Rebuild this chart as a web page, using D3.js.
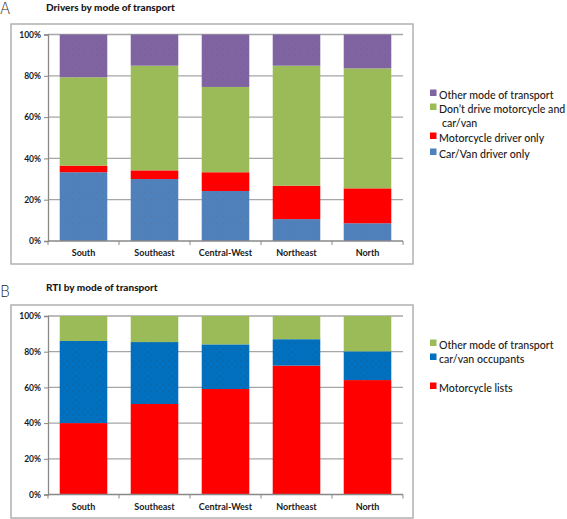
<!DOCTYPE html>
<html>
<head>
<meta charset="utf-8">
<script src="https://cdn.jsdelivr.net/npm/d3@7/dist/d3.min.js"></script>
<style>
  body { margin: 0; background: #fff; }
  svg { display: block; }
  text { font-family: Lato, "Open Sans", sans-serif; fill: #1a1a1a; }
</style>
</head>
<body>
<svg id="chart" width="567" height="519"></svg>
<script>
// ---------- DATA ----------
const regions = ["South", "Southeast", "Central-West", "Northeast", "North"];
const yTicks = [0, 0.2, 0.4, 0.6, 0.8, 1.0];

// Panel A: Drivers by mode of transport (shares, stacked bottom→top)
const carVanDriverOnly      = [0.333, 0.300, 0.242, 0.106, 0.086];
const motorcycleDriverOnly  = [0.032, 0.042, 0.091, 0.162, 0.169];
const dontDrive             = [0.428, 0.507, 0.413, 0.581, 0.581];
const otherModeA            = [0.207, 0.151, 0.254, 0.151, 0.164];
const seriesA = ["Car/Van driver only", "Motorcycle driver only", "Don\u2019t drive motorcycle and car/van", "Other mode of transport"];

// Panel B: RTI by mode of transport
const motorcyclists         = [0.400, 0.507, 0.591, 0.722, 0.641];
const carVanOccupants       = [0.460, 0.347, 0.250, 0.148, 0.161];
const otherModeB            = [0.140, 0.146, 0.159, 0.130, 0.198];
const seriesB = ["Motorcycle lists", "car/van occupants", "Other mode of transport"];

// ---------- DRAW ----------
const svg = d3.select("#chart");
const defs = svg.append("defs");

function dotPattern(id, bg, dot, step, r) {
  const p = defs.append("pattern").attr("id", id).attr("patternUnits", "userSpaceOnUse")
    .attr("width", step).attr("height", step);
  p.append("rect").attr("width", step).attr("height", step).attr("fill", bg);
  p.append("circle").attr("cx", 1).attr("cy", 1).attr("r", r).attr("fill", dot).attr("opacity", 0.55);
  p.append("circle").attr("cx", step / 2 + 1).attr("cy", step / 2 + 1).attr("r", r).attr("fill", dot).attr("opacity", 0.35);
}
dotPattern("pPurple", "#8064a2", "#5a4a7a", 6, 0.5);
dotPattern("pBlueA", "#4f81bd", "#8a5a3a", 6, 0.5);
dotPattern("pBlueB", "#0070c0", "#5a2a10", 6, 0.55);

function panel(cfg) {
  const g = svg.append("g");
  // letter + title
  g.append("text").attr("x", cfg.letterX).attr("y", cfg.letterY)
    .style("font-family", "'DejaVu Sans', sans-serif").style("font-size", "15px").style("font-weight", 300)
    .text(cfg.letter);
  g.append("text").attr("x", 46).attr("y", cfg.titleY)
    .style("font-size", "10px").style("font-weight", 900).text(cfg.title);
  // frame
  g.append("rect").attr("x", 11).attr("y", cfg.frameTop).attr("width", 402).attr("height", cfg.frameBottom - cfg.frameTop)
    .attr("fill", "none").attr("stroke", "#b0b0b0").attr("stroke-width", 1.5);

  const x = d3.scaleBand().domain(regions).range([48, 403]).paddingInner(0.33).paddingOuter(0.165);
  const y = d3.scaleLinear().domain([0, 1]).range([cfg.y0, cfg.y100]);

  // gridlines
  g.append("g").selectAll("line").data(yTicks.filter(d => d > 0)).join("line")
    .attr("x1", 48).attr("x2", 403).attr("y1", d => y(d)).attr("y2", d => y(d))
    .attr("stroke", "#a6a6a6").attr("stroke-width", 1.3);

  // stacks
  const keys = cfg.series.map(s => s.key);
  const rows = regions.map((r, i) => {
    const o = { region: r };
    cfg.series.forEach(s => o[s.key] = s.values[i]);
    return o;
  });
  const stacked = d3.stack().keys(keys)(rows);
  g.append("g").selectAll("g").data(stacked).join("g")
    .attr("fill", (d, i) => cfg.series[i].fill)
    .selectAll("rect").data(d => d).join("rect")
    .attr("x", d => x(d.data.region)).attr("width", x.bandwidth())
    .attr("y", d => y(d[1])).attr("height", d => y(d[0]) - y(d[1]));

  // y axis
  const yAxis = g.append("g").attr("transform", "translate(48,0)")
    .call(d3.axisLeft(y).tickValues(yTicks).tickFormat(d3.format(".0%")).tickSize(4).tickPadding(3));
  yAxis.select(".domain").attr("stroke", "#888").attr("stroke-width", 1.3);
  yAxis.selectAll(".tick line").attr("stroke", "#888");
  yAxis.selectAll("text").style("font-size", "8.5px").style("font-weight", 700).attr("fill", "#1a1a1a");

  // x axis
  const xStep = x.step();
  const xAxis = g.append("g").attr("transform", `translate(0,${cfg.y0})`);
  xAxis.append("line").attr("x1", 48).attr("x2", 403).attr("stroke", "#888").attr("stroke-width", 1.3);
  xAxis.selectAll("line.t").data(d3.range(regions.length + 1)).join("line").attr("class", "t")
    .attr("x1", i => 48 + i * xStep).attr("x2", i => 48 + i * xStep).attr("y1", 0).attr("y2", 4)
    .attr("stroke", "#888");
  xAxis.selectAll("text").data(regions).join("text")
    .attr("x", d => x(d) + x.bandwidth() / 2).attr("y", cfg.labelDy)
    .attr("text-anchor", "middle").style("font-size", "9px").style("font-weight", 700).text(d => d);

  // legend
  const lg = g.append("g");
  cfg.legend.forEach(item => {
    lg.append("rect").attr("x", 430).attr("y", item.y - 6.5).attr("width", 6.5).attr("height", 6.5).attr("fill", item.color);
    item.lines.forEach((ln, j) => {
      lg.append("text").attr("x", j === 0 ? 439 : 442).attr("y", item.y + 3 + j * 13.5)
        .style("font-size", "10.6px").style("font-weight", 500).text(ln);
    });
  });
}

panel({
  letter: "A", letterX: 0, letterY: 14, title: "Drivers by mode of transport", titleY: 11,
  frameTop: 24, frameBottom: 264, y0: 241, y100: 34.5, labelDy: 15,
  series: [
    { key: "car", values: carVanDriverOnly, fill: "url(#pBlueA)" },
    { key: "moto", values: motorcycleDriverOnly, fill: "#ff0000" },
    { key: "dont", values: dontDrive, fill: "#9bbb59" },
    { key: "other", values: otherModeA, fill: "url(#pPurple)" }
  ],
  legend: [
    { y: 96, color: "#8064a2", lines: [seriesA[3]] },
    { y: 110, color: "#9bbb59", lines: ["Don\u2019t drive motorcycle and", "car/van"] },
    { y: 139, color: "#ff0000", lines: [seriesA[1]] },
    { y: 155, color: "#4f81bd", lines: [seriesA[0]] }
  ]
});

panel({
  letter: "B", letterX: 0, letterY: 297, title: "RTI by mode of transport", titleY: 291,
  frameTop: 305, frameBottom: 518, y0: 494.5, y100: 316, labelDy: 15,
  series: [
    { key: "moto", values: motorcyclists, fill: "#ff0000" },
    { key: "car", values: carVanOccupants, fill: "url(#pBlueB)" },
    { key: "other", values: otherModeB, fill: "#9bbb59" }
  ],
  legend: [
    { y: 346, color: "#9bbb59", lines: [seriesB[2]] },
    { y: 360, color: "#0070c0", lines: [seriesB[1]] },
    { y: 389, color: "#ff0000", lines: [seriesB[0]] }
  ]
});
</script>
</body>
</html>
